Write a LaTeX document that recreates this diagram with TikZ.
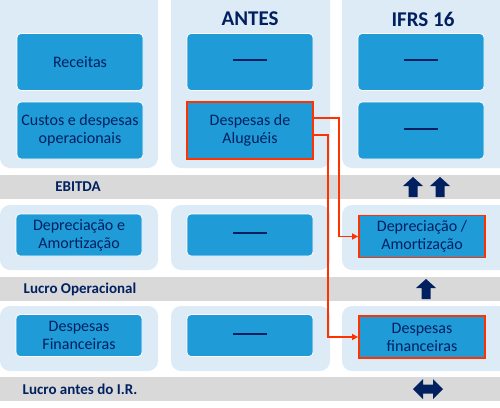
\documentclass[tikz,border=0pt]{standalone}
\usepackage{fontspec}
\setmainfont{Carlito}
\usepackage{tikz}
\usetikzlibrary{arrows.meta,positioning,calc}
\definecolor{panelbg}{HTML}{DDEBF7}
\definecolor{boxblue}{HTML}{1F9BD7}
\definecolor{navy}{HTML}{002060}
\definecolor{bandgray}{HTML}{D9D9D9}
\definecolor{flowred}{HTML}{FF3300}
\tikzset{
  panel/.style    = {fill=panelbg,rounded corners=10pt},
  band/.style     = {fill=bandgray},
  itembox/.style  = {draw=white,line width=0.8pt,fill=boxblue,rounded corners=4pt,
                     minimum width=126pt,minimum height=57pt,align=center,
                     text=navy,font=\fontsize{16}{18}\selectfont,inner sep=0pt},
  slim/.style     = {itembox,minimum height=42pt},
  marked/.style   = {draw=flowred,line width=1.8pt,rounded corners=0pt},
  head/.style     = {font=\bfseries\fontsize{21}{23}\selectfont,text=navy},
  bandlbl/.style  = {font=\bfseries\fontsize{15}{17}\selectfont,text=navy},
  redflow/.style  = {-{Triangle[length=6pt,width=6pt]},line width=1.8pt,draw=flowred},
}
\newcommand{\traco}{\rule[4pt]{34pt}{2pt}}
\newcommand{\upArrow}[2]{%
  \begin{scope}[shift={(#1,#2)}]
    \fill[navy] (0,-10) -- (10,-1) -- (4.5,-1) -- (4.5,10) -- (-4.5,10)
      -- (-4.5,-1) -- (-10,-1) -- cycle;
  \end{scope}%
}
\newcommand{\bothArrow}[2]{%
  \begin{scope}[shift={(#1,#2)}]
    \fill[navy] (-15,0) -- (-5,-10) -- (-5,-4.5) -- (5,-4.5) -- (5,-10)
      -- (15,0) -- (5,10) -- (5,4.5) -- (-5,4.5) -- (-5,10) -- cycle;
  \end{scope}%
}

\begin{document}
\begin{tikzpicture}[x=1pt,y=-1pt]
  \useasboundingbox (0,0) rectangle (500,407);
  \clip (0,0) rectangle (500,407);
  % panels and bands
  \fill[panel] (0,-20) rectangle (158,168);
  \fill[panel] (171,-20) rectangle (330,168);
  \fill[panel] (342,-20) rectangle (520,168);
  \fill[panel] (0,205) rectangle (158,270);
  \fill[panel] (171,205) rectangle (330,270);
  \fill[panel] (342,205) rectangle (520,270);
  \fill[panel] (0,306) rectangle (158,371);
  \fill[panel] (171,306) rectangle (330,371);
  \fill[panel] (342,306) rectangle (520,371);
  \fill[band] (0,175) rectangle (500,199);
  \fill[band] (0,277) rectangle (500,301);
  \fill[band] (0,377) rectangle (500,401);

  \node[head] (antes) at (250,19) {ANTES};
  \node[head] (ifrs)  at (423,19) {IFRS 16};

  \node[itembox] (rec)     at (80,62)  {Receitas};
  \node[itembox] (custos)  at (80,130.5) {Custos e despesas\\operacionais};
  \node[itembox] (recA)    at (250,62) {\traco};
  \node[itembox,marked] (alug) at (250,130.5) {Despesas de\\Aluguéis};
  \node[itembox] (recI)    at (421,62) {\traco};
  \node[itembox] (custosI) at (421,130.5) {\traco};

  \node[slim] (depr)    at (79,235)  {Depreciação e\\Amortização};
  \node[slim] (deprA)   at (250,235) {\traco};
  \node[slim,marked] (deprI) at (422,236.5) {Depreciação /\\Amortização};

  \node[slim] (fin)     at (79,335.5) {Despesas\\Financeiras};
  \node[slim] (finA)    at (250,335.5) {\traco};
  \node[slim,marked] (finI) at (422,337) {Despesas\\financeiras};

  \node[bandlbl] (ebitda) at (78,187) {EBITDA};
  \node[bandlbl] (lop)    at (80,289) {Lucro Operacional};
  \node[bandlbl] (lair)   at (80,389) {Lucro antes do I.R.};

  \draw[redflow] ([yshift=12.5pt]alug.east) -- ++(25,0) |- (deprI.west);
  \draw[redflow] ([yshift=-4.5pt]alug.east) -- ++(14,0) |- (finI.west);

  \upArrow{413}{187}
  \upArrow{440}{187}
  \upArrow{426}{289}
  \bothArrow{428}{389}
\end{tikzpicture}
\end{document}
